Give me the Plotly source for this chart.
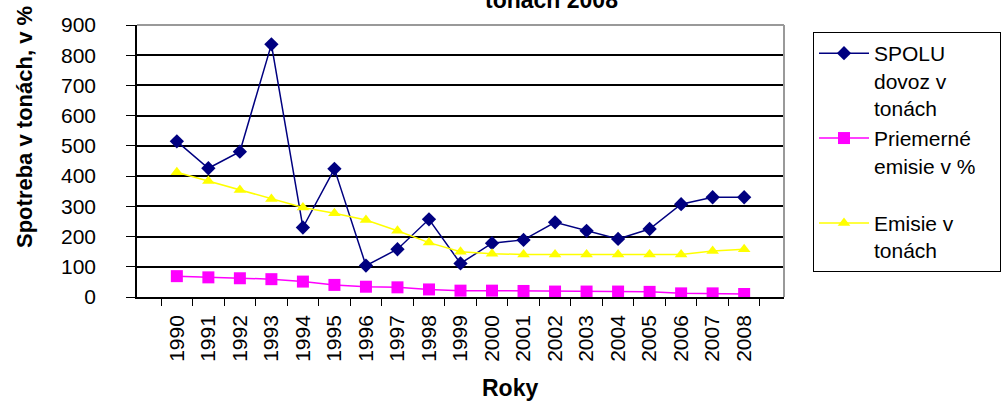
import plotly.graph_objects as go

years = [str(y) for y in range(1990, 2009)]
spolu = [515, 426, 481, 836, 230, 424, 104, 158, 257, 111, 178, 189, 247, 219, 192, 225, 307, 330, 330]
priemerne = [69, 65, 62, 59, 51, 40, 34, 32, 25, 21, 21, 20, 18, 18, 18, 17, 12, 12, 10]
emisie = [413, 384, 354, 324, 296, 277, 255, 219, 180, 150, 143, 141, 141, 141, 141, 141, 141, 152, 158]
y_ticks = list(range(0, 1000, 100))
legend_names = [
    "SPOLU<br>dovoz v<br>tonách",
    "Priemerné\u00a0\u00a0\u00a0\u00a0<br>emisie v %<br> ",
    "Emisie v<br>tonách",
]

FONT = "Liberation Sans, Arial, sans-serif"

fig = go.Figure()
fig.add_trace(go.Scatter(
    x=years, y=spolu, mode="lines+markers", name=legend_names[0],
    line=dict(color="#000080", width=1.5),
    marker=dict(symbol="diamond", size=11, color="#000080"),
))
fig.add_trace(go.Scatter(
    x=years, y=priemerne, mode="lines+markers", name=legend_names[1],
    line=dict(color="#FF00FF", width=1.5),
    marker=dict(symbol="square", size=12, color="#FF00FF"),
))
fig.add_trace(go.Scatter(
    x=years, y=emisie, mode="lines+markers", name=legend_names[2],
    line=dict(color="#FFFF00", width=1.5),
    marker=dict(symbol="triangle-up", size=11, color="#FFFF00"),
))

W, H = 1007, 401
L, R, T, B = 137, 1007 - 784, 25, 401 - 297
pw, ph = W - L - R, H - T - B

def px(x):
    return (x - L) / pw

def py(y):
    return (H - B - y) / ph

fig.update_layout(
    width=W, height=H,
    margin=dict(l=L, r=R, t=T, b=B, pad=0, autoexpand=False),
    paper_bgcolor="white", plot_bgcolor="white",
    font=dict(family=FONT, size=21, color="black"),
    showlegend=True,
    legend=dict(
        x=px(813), y=py(32), xanchor="left", yanchor="top",
        bordercolor="black", borderwidth=1, bgcolor="white",
        font=dict(family=FONT, size=21, color="black"),
        valign="top", tracegroupgap=0, itemwidth=50,
    ),
    xaxis=dict(
        type="category", tickangle=-90, tickson="boundaries",
        ticks="outside", ticklen=7, tickcolor="black", tickwidth=1,
        showline=True, linecolor="black", linewidth=1.5,
        showgrid=False, ticklabelstandoff=8, automargin=False,
        tickfont=dict(family=FONT, size=21, color="black"),
    ),
    yaxis=dict(
        range=[0, 900], tickvals=y_ticks, ticks="outside", ticklen=9,
        tickcolor="black", tickwidth=1,
        showline=True, linecolor="black", linewidth=1.5,
        showgrid=True, gridcolor="black", gridwidth=1.5,
        zeroline=False, ticklabelstandoff=26, automargin=False,
        tickfont=dict(family=FONT, size=21, color="black"),
    ),
    shapes=[
        dict(type="line", xref="paper", yref="paper", x0=0, x1=1, y0=1, y1=1,
             line=dict(color="#999999", width=2), layer="above"),
        dict(type="line", xref="paper", yref="paper", x0=1, x1=1, y0=0, y1=1,
             line=dict(color="#999999", width=2), layer="above"),
    ],
    annotations=[
        dict(text="<b>Spotreba v tonách, v %</b>", xref="paper", yref="paper",
             x=px(24), y=py(127), xanchor="center", yanchor="middle",
             textangle=-90, showarrow=False,
             font=dict(family=FONT, size=22, color="black")),
        dict(text="<b>Roky</b>", xref="paper", yref="paper",
             x=px(510), y=py(388), xanchor="center", yanchor="middle",
             showarrow=False, font=dict(family=FONT, size=23, color="black")),
        dict(text="<b>tonách 2008</b>", xref="paper", yref="paper",
             x=px(551), y=py(15), xanchor="center", yanchor="bottom",
             showarrow=False, font=dict(family=FONT, size=23, color="black")),
    ],
)

fig.write_html(
    "out.html",
    config={"displayModeBar": False},
    post_script="document.body.style.margin='0';document.body.style.padding='0';",
)
